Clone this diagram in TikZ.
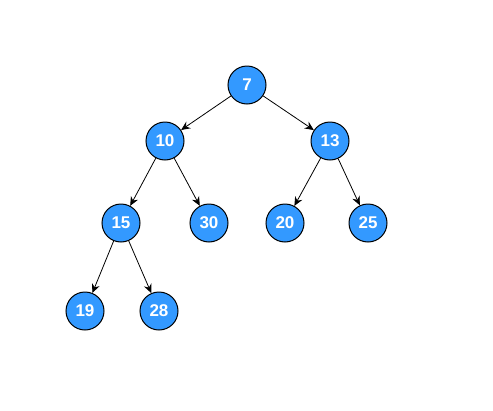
\documentclass[tikz,border=0pt]{standalone}
\usepackage{fontspec}
\setmainfont{Liberation Sans}
\usetikzlibrary{arrows.meta}
\definecolor{nodeblue}{HTML}{3399FF}
\begin{document}
\begin{tikzpicture}[x=1pt, y=-1pt,
  heapnode/.style={circle, draw, fill=nodeblue, line width=1pt, minimum size=38pt, inner sep=0pt,
    text=white, font=\fontsize{17}{19}\selectfont\bfseries},
  edge/.style={-{Stealth[length=9pt,width=8pt,inset=3pt]}, line width=0.8pt}]
\useasboundingbox (0,0) rectangle (493,410);
\node[heapnode] (n7) at (247,85) {7};
\node[heapnode] (n10) at (165,141) {10};
\node[heapnode] (n13) at (330,141) {13};
\node[heapnode] (n15) at (121,223) {15};
\node[heapnode] (n30) at (209,223) {30};
\node[heapnode] (n20) at (285,223) {20};
\node[heapnode] (n25) at (368,223) {25};
\node[heapnode] (n19) at (85,311) {19};
\node[heapnode] (n28) at (159,311) {28};
\draw[edge] (n7) -- (n10);
\draw[edge] (n7) -- (n13);
\draw[edge] (n10) -- (n15);
\draw[edge] (n10) -- (n30);
\draw[edge] (n13) -- (n20);
\draw[edge] (n13) -- (n25);
\draw[edge] (n15) -- (n19);
\draw[edge] (n15) -- (n28);
\end{tikzpicture}
\end{document}
